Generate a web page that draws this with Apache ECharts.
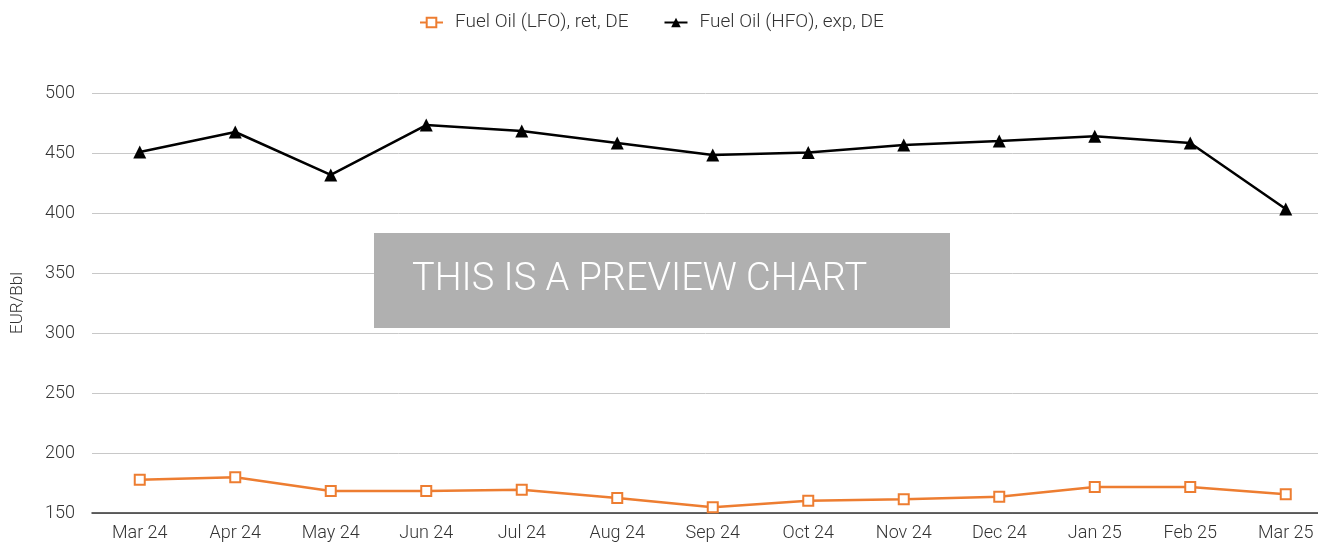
<!DOCTYPE html>
<html>
<head>
<meta charset="utf-8">
<script src="https://cdn.jsdelivr.net/npm/echarts@6/dist/echarts.min.js"></script>
<style>
  html, body { margin: 0; padding: 0; background: #fff; }
  #chart { width: 1318px; height: 543px; }
</style>
</head>
<body>
<div id="chart"></div>
<script>
const months = ['Mar 24', 'Apr 24', 'May 24', 'Jun 24', 'Jul 24', 'Aug 24', 'Sep 24',
  'Oct 24', 'Nov 24', 'Dec 24', 'Jan 25', 'Feb 25', 'Mar 25'];
const lfoRet = [177.8, 179.8, 168.3, 168.3, 169.4, 162.5, 154.7, 160.3, 161.4, 163.6, 171.7, 171.7, 165.6];
const hfoExp = [450.8, 467.5, 431.7, 473.3, 468.3, 458.3, 448.3, 450.5, 456.7, 460.0, 464.0, 458.3, 403.3];

const chart = echarts.init(document.getElementById('chart'));
const font = 'Roboto, sans-serif';

chart.setOption({
  animation: false,
  textStyle: { fontFamily: font },
  legend: {
    top: 8,
    left: 414,
    itemGap: 35,
    itemWidth: 23,
    itemHeight: 12,
    textStyle: { fontSize: 19, color: '#333', fontFamily: font, fontWeight: 300, padding: [0, 0, 0, 7] },
    data: ['Fuel Oil (LFO), ret, DE', 'Fuel Oil (HFO), exp, DE']
  },
  grid: { left: 92, width: 1241.5, top: 93, height: 420, outerBoundsMode: 'none', containLabel: false },
  xAxis: {
    type: 'category',
    data: months,
    boundaryGap: true,
    axisTick: { show: false },
    axisLine: { lineStyle: { color: '#333', width: 1.5 } },
    axisLabel: { fontSize: 18, color: '#333', fontWeight: 300, margin: 11 }
  },
  yAxis: {
    type: 'value',
    min: 150,
    max: 500,
    interval: 50,
    name: 'EUR/Bbl',
    nameLocation: 'middle',
    nameGap: 66,
    nameTextStyle: { fontSize: 17, color: '#333', fontWeight: 300 },
    axisLine: { show: false },
    axisTick: { show: false },
    axisLabel: { fontSize: 18, color: '#333', fontWeight: 300, margin: 17 },
    splitLine: { lineStyle: { color: '#c8c8c8', width: 1 } }
  },
  graphic: [
    {
      type: 'rect',
      left: 374,
      top: 233,
      shape: { width: 576, height: 95 },
      style: { fill: '#b0b0b0' },
      z: 100
    },
    {
      type: 'text',
      left: 412,
      top: 261,
      style: { text: 'THIS IS A PREVIEW CHART', fill: '#fff', fontSize: 38, fontFamily: font, fontWeight: 300 },
      z: 101
    }
  ],
  series: [
    {
      name: 'Fuel Oil (LFO), ret, DE',
      type: 'line',
      data: lfoRet,
      symbol: 'rect',
      symbolSize: 10,
      lineStyle: { color: '#ED7D31', width: 2.5 },
      itemStyle: { color: '#fff', borderColor: '#ED7D31', borderWidth: 2 }
    },
    {
      name: 'Fuel Oil (HFO), exp, DE',
      type: 'line',
      data: hfoExp,
      symbol: 'triangle',
      symbolSize: 13,
      lineStyle: { color: '#000', width: 2.5 },
      itemStyle: { color: '#000' }
    }
  ]
});
</script>
</body>
</html>
